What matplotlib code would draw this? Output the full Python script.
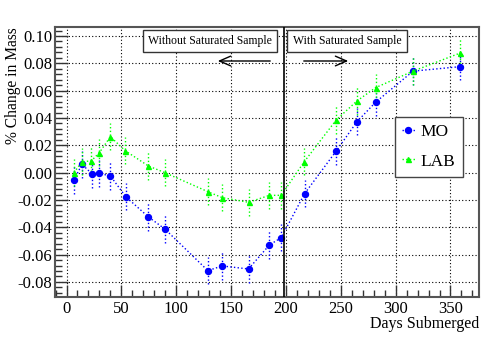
import matplotlib
matplotlib.use("Agg")
import matplotlib.pyplot as plt
from matplotlib.ticker import MultipleLocator

plt.rcParams['font.family'] = ['Liberation Serif', 'DejaVu Serif']

mo_days = [6.8, 14.1, 23.3, 29.7, 40.0, 54.0, 74.6, 89.6, 128.8, 141.9, 165.9, 185.0, 195.7, 217.0, 245.9, 264.8, 281.7, 315.9, 359.0]
mo_vals = [-0.0053, 0.0061, -0.001, -0.0005, -0.0024, -0.0176, -0.0324, -0.0412, -0.0717, -0.0683, -0.0705, -0.0529, -0.0476, -0.0154, 0.0159, 0.0373, 0.0515, 0.0743, 0.0776]
mo_err = [0.010] * len(mo_days)

lab_days = [6.8, 14.1, 22.6, 29.9, 40.0, 53.6, 74.6, 89.6, 128.8, 141.9, 165.9, 185.0, 195.7, 216.7, 245.9, 264.8, 281.7, 315.9, 359.0]
lab_vals = [0.0, 0.008, 0.0086, 0.0146, 0.0263, 0.016, 0.0049, 0.0, -0.0139, -0.0183, -0.0217, -0.0166, -0.0166, 0.008, 0.0386, 0.0525, 0.0622, 0.0743, 0.0876]
lab_err = [0.010] * len(lab_days)

x_ticks = [0, 50, 100, 150, 200, 250, 300, 350]
y_ticks = [-0.08, -0.06, -0.04, -0.02, 0.00, 0.02, 0.04, 0.06, 0.08, 0.10]
divider_day = 198

fig = plt.figure(figsize=(4.82, 3.46), dpi=100)
W, H = 482, 346
ax = fig.add_axes([55 / W, 1 - 296.7 / H, (479 - 55) / W, (296.7 - 27) / H])

ax.set_xlim(-10.5, 376)
ax.set_ylim(-0.0908, 0.1066)

mo_c = ax.errorbar(mo_days, mo_vals, yerr=mo_err, color='#0000ff', marker='o', markersize=4.3,
                   linestyle=':', linewidth=1.0, elinewidth=1.0, capsize=0, label='MO', zorder=3)
lab_c = ax.errorbar(lab_days, lab_vals, yerr=lab_err, color='#00ff00', marker='^', markersize=3.6,
                    linestyle=':', linewidth=1.0, elinewidth=1.0, capsize=0, label='LAB', zorder=3)
for eb in (mo_c, lab_c):
    for lc in eb[2]:
        lc.set_linestyle(':')

ax.axvline(divider_day, color='black', linewidth=1.2, zorder=4)

ax.set_xticks(x_ticks)
ax.set_xticklabels([str(v) for v in x_ticks], family='Liberation Serif')
ax.set_yticks(y_ticks)
ax.set_yticklabels(['%.2f' % v for v in y_ticks], family='Liberation Serif')
ax.xaxis.set_minor_locator(MultipleLocator(10))
ax.yaxis.set_minor_locator(MultipleLocator(0.004))
ax.tick_params(which='both', direction='in', top=False, right=False, labelsize=12, colors='black')
ax.tick_params(which='major', length=9, width=1.0, color='#333333')
ax.tick_params(which='minor', length=5, width=1.0, color='#333333')
ax.tick_params(axis='x', pad=3)
ax.tick_params(axis='y', pad=2)
ax.grid(True, which='major', linestyle=(0, (1, 2)), color='black', linewidth=0.8)

for sp in ax.spines.values():
    sp.set_color('#555555')
    sp.set_linewidth(1.5)

fig.text(13.5 / W, 1 - 27 / H, '% Change in Mass', rotation=90, ha='center', va='top', fontsize=11.2)
fig.text(479 / W, 1 - 324 / H, 'Days Submerged', ha='right', va='center', fontsize=11.5)

bbox = dict(boxstyle='square,pad=0.45', facecolor='white', edgecolor='#333333', linewidth=1.0)
fig.text(210 / W, 1 - 41 / H, 'Without Saturated Sample', ha='center', va='center', fontsize=8.5, bbox=bbox)
fig.text(347 / W, 1 - 41 / H, 'With Saturated Sample', ha='center', va='center', fontsize=8.5, bbox=bbox)

ax.annotate('', xy=(215 / W, 1 - 61 / H), xytext=(273 / W, 1 - 61 / H), xycoords='figure fraction',
            arrowprops=dict(arrowstyle='->,head_length=0.8,head_width=0.35', color='black', lw=1.0))
ax.annotate('', xy=(351 / W, 1 - 61 / H), xytext=(301 / W, 1 - 61 / H), xycoords='figure fraction',
            arrowprops=dict(arrowstyle='->,head_length=0.8,head_width=0.35', color='black', lw=1.0))

x0 = (395 - 55) / (479 - 55)
x1 = (463 - 55) / (479 - 55)
ytop = (296.7 - 117.3) / (296.7 - 27)
leg = ax.legend(handles=[mo_c[0], lab_c[0]], labels=['MO', 'LAB'],
                loc='upper left', bbox_to_anchor=(x0, ytop - 0.3, x1 - x0, 0.3), mode='expand',
                fontsize=12.5, frameon=True, fancybox=False, framealpha=1, edgecolor='#444444',
                handlelength=0.75, borderpad=0.4, labelspacing=0.75, handletextpad=0.3, borderaxespad=0)
leg.get_frame().set_linewidth(1.0)

fig.savefig('out.png', dpi=100)
